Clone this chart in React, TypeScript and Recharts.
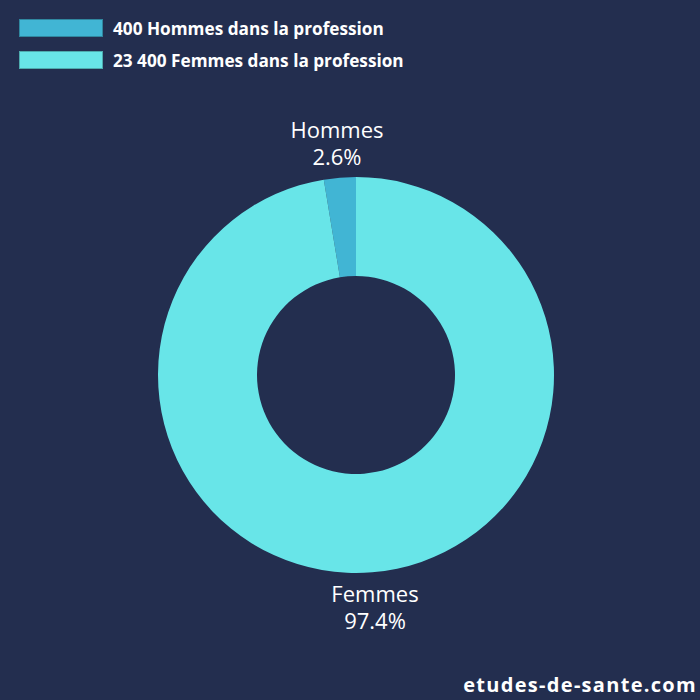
import * as React from "react";
import { PieChart, Pie, Cell } from "recharts";

const CATEGORIES = ["Hommes", "Femmes"];
const PERCENTAGES = [2.6, 97.4];
const LEGEND_LABELS = ["400 Hommes dans la profession", "23 400 Femmes dans la profession"];
const COLORS = ["#41B5D4", "#68E5E8"];

const BG = "#232E4F";
const FONT = "'Open Sans', 'DejaVu Sans', sans-serif";

const data = CATEGORIES.map((name, i) => ({ name, value: PERCENTAGES[i] }));

const RADIAN = Math.PI / 180;

const renderLabel = ({ cx, cy, midAngle, index }: any) => {
  const r = 233;
  const x = cx + r * Math.cos(-midAngle * RADIAN);
  const y = cy + r * Math.sin(-midAngle * RADIAN);
  const d = data[index];
  return (
    <text x={x} y={y} fill="#ffffff" textAnchor="middle" fontFamily={FONT} fontSize={22}>
      <tspan x={x} dy={-5}>{d.name}</tspan>
      <tspan x={x} dy={27}>{d.value.toFixed(1)}%</tspan>
    </text>
  );
};

const LegendBox = () => (
  <div style={{ position: "absolute", top: 12, left: 19, fontFamily: FONT }}>
    {LEGEND_LABELS.map((label, i) => (
      <div key={label} style={{ display: "flex", alignItems: "center", height: 32 }}>
        <div
          style={{
            width: 82,
            height: 16,
            background: COLORS[i],
            border: "1px solid rgba(0,0,0,0.25)",
            marginRight: 10,
          }}
        />
        <span style={{ color: "#ffffff", fontWeight: 700, fontSize: 17.2 }}>{label}</span>
      </div>
    ))}
  </div>
);

export default function App() {
  return (
    <div style={{ position: "fixed", left: 0, top: 0, width: 700, height: 700, background: BG }}>
      <PieChart width={700} height={700} margin={{ top: 0, right: 0, bottom: 0, left: 0 }}>
        <Pie
          data={data}
          dataKey="value"
          nameKey="name"
          cx={356}
          cy={375}
          innerRadius={99}
          outerRadius={198}
          startAngle={90}
          endAngle={450}
          stroke="none"
          label={renderLabel}
          labelLine={false}
          isAnimationActive={false}
        >
          {data.map((entry, index) => (
            <Cell key={`cell-${index}`} fill={COLORS[index % COLORS.length]} />
          ))}
        </Pie>
      </PieChart>
      <LegendBox />
      <div
        style={{
          position: "absolute",
          right: 3,
          bottom: 2,
          color: "#ffffff",
          fontFamily: FONT,
          fontWeight: 700,
          fontSize: 20,
          letterSpacing: 1.3,
        }}
      >
        etudes-de-sante.com
      </div>
    </div>
  );
}
